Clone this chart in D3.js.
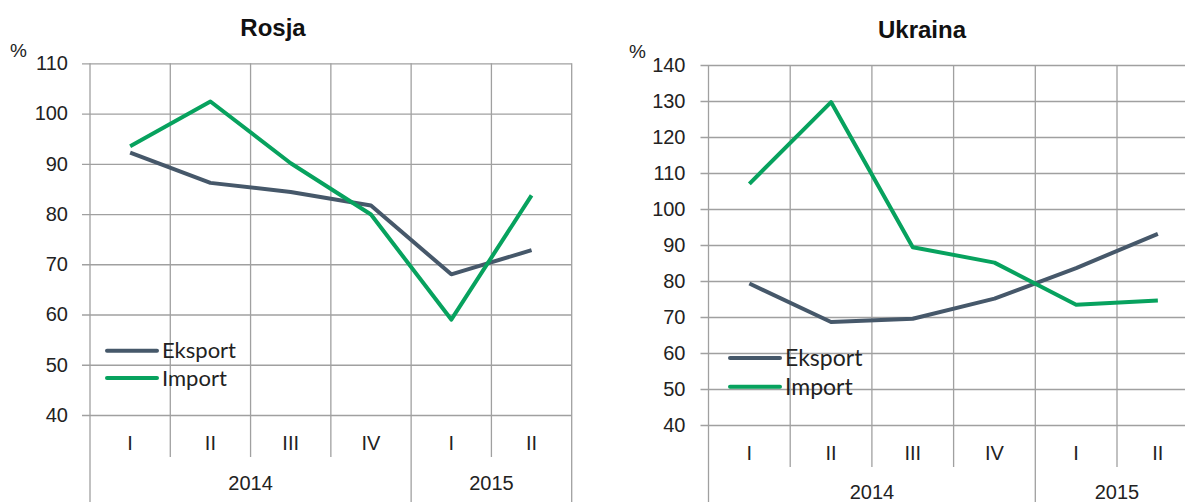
<!DOCTYPE html>
<html>
<head>
<meta charset="utf-8">
<script src="https://cdn.jsdelivr.net/npm/d3@7"></script>
<style>
  body { margin: 0; background: #fff; }
  svg { display: block; }
</style>
</head>
<body>
<svg id="chart" width="1185" height="502"></svg>
<script>
// Data
const quarters = ["I", "II", "III", "IV", "I", "II"];
const yearLabels = ["2014", "2015"];
const yearSpans = [4, 2];

const rosjaEksport = [92.2, 86.2, 84.4, 81.7, 68.0, 72.8];
const rosjaImport = [93.5, 102.4, 90.1, 79.9, 59.0, 83.7];
const rosjaTicks = [40, 50, 60, 70, 80, 90, 100, 110];

const ukrainaEksport = [79.3, 68.6, 69.5, 75.1, 83.6, 93.1];
const ukrainaImport = [107.0, 129.7, 89.4, 85.1, 73.4, 74.6];
const ukrainaTicks = [40, 50, 60, 70, 80, 90, 100, 110, 120, 130, 140];

const seriesNames = ["Eksport", "Import"];
const seriesColors = ["#46586a", "#07a25e"];

const gridColor = "#a0a0a0";
const axisFont = "20px 'Liberation Sans', Arial, sans-serif";
const svg = d3.select("#chart");

function drawPanel(p) {
  const g = svg.append("g");
  const x = d3.scaleBand().domain(d3.range(quarters.length)).range([p.x0, p.x1]);
  const y = d3.scaleLinear().domain(d3.extent(p.ticks)).range([p.yBot, p.yTop]);

  // title
  g.append("text")
    .attr("x", p.titleX).attr("y", p.titleY)
    .attr("text-anchor", "middle")
    .style("font", "bold 24px 'Liberation Sans', Arial, sans-serif")
    .attr("fill", "#111")
    .text(p.title);

  g.append("text")
    .attr("x", p.pctX).attr("y", p.pctY)
    .style("font", "19px 'Liberation Sans', Arial, sans-serif")
    .attr("fill", "#222")
    .text("%");

  // horizontal grid + y labels
  const yAxis = g.append("g")
    .attr("transform", `translate(${p.x0},0)`)
    .call(d3.axisLeft(y).tickValues(p.ticks).tickSize(-(p.x1 - p.x0)).tickPadding(p.labelPad));
  yAxis.select(".domain").remove();
  yAxis.selectAll(".tick line")
    .attr("x1", -8)
    .attr("stroke", gridColor).attr("stroke-width", 1.3);
  yAxis.selectAll(".tick text")
    .style("font", axisFont)
    .attr("fill", "#222");

  // vertical grid lines
  const bounds = d3.range(quarters.length + 1).map(i => i < quarters.length ? x(i) : p.x1);
  const yearBounds = [0];
  yearSpans.forEach((s, i) => yearBounds.push(yearBounds[i] + s));
  g.selectAll(".vgrid")
    .data(bounds)
    .join("line")
    .attr("x1", d => d).attr("x2", d => d)
    .attr("y1", p.yTop)
    .attr("y2", (d, i) => yearBounds.includes(i) ? 502 : p.qBottom)
    .attr("stroke", gridColor).attr("stroke-width", 1.3);

  // quarter labels
  g.selectAll(".qlab")
    .data(quarters)
    .join("text")
    .attr("x", (d, i) => x(i) + x.bandwidth() / 2)
    .attr("y", p.qLabelY)
    .attr("text-anchor", "middle")
    .style("font", axisFont)
    .attr("fill", "#222")
    .text(d => d);

  // year labels
  g.selectAll(".ylab")
    .data(yearLabels)
    .join("text")
    .attr("x", (d, i) => (bounds[yearBounds[i]] + bounds[yearBounds[i + 1]]) / 2)
    .attr("y", p.yearLabelY)
    .attr("text-anchor", "middle")
    .style("font", axisFont)
    .attr("fill", "#222")
    .text(d => d);

  // lines
  const line = d3.line()
    .x((d, i) => x(i) + x.bandwidth() / 2)
    .y(d => y(d));
  [p.eksport, p.import].forEach((vals, k) => {
    g.append("path")
      .datum(vals)
      .attr("d", line)
      .attr("fill", "none")
      .attr("stroke", seriesColors[k])
      .attr("stroke-width", 4)
      .attr("stroke-linejoin", "round");
  });

  // legend
  seriesNames.forEach((name, k) => {
    const ly = p.legendY + k * p.legendGap;
    g.append("line")
      .attr("x1", p.legendX).attr("x2", p.legendX + 50)
      .attr("y1", ly).attr("y2", ly)
      .attr("stroke", seriesColors[k]).attr("stroke-width", 4)
      .attr("stroke-linecap", "round");
    g.append("text")
      .attr("x", p.legendX + 55).attr("y", ly)
      .attr("dy", "0.35em")
      .style("font", `${p.legendSize}px Lato, 'Open Sans', sans-serif`)
      .attr("fill", "#222")
      .text(name);
  });
}

drawPanel({
  title: "Rosja", titleX: 273, titleY: 36, pctX: 10, pctY: 57,
  x0: 90, x1: 571.7, yTop: 63.3, yBot: 415, qBottom: 457, labelPad: 22,
  qLabelY: 450, yearLabelY: 490,
  ticks: rosjaTicks, eksport: rosjaEksport, import: rosjaImport,
  legendX: 107, legendY: 350.7, legendGap: 27.3, legendSize: 22
});

drawPanel({
  title: "Ukraina", titleX: 922, titleY: 38, pctX: 629, pctY: 58,
  x0: 708.5, x1: 1198.7, yTop: 65, yBot: 425, qBottom: 467, labelPad: 23,
  qLabelY: 460, yearLabelY: 499,
  ticks: ukrainaTicks, eksport: ukrainaEksport, import: ukrainaImport,
  legendX: 730, legendY: 358, legendGap: 28.7, legendSize: 23
});
</script>
</body>
</html>
